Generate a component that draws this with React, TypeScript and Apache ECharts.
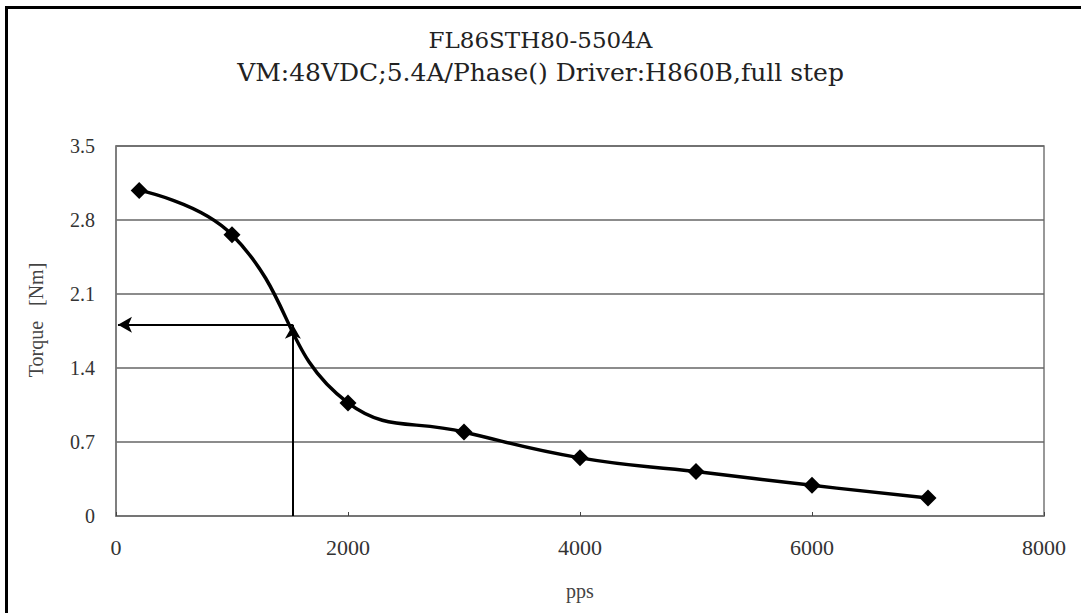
import React, { useEffect, useRef } from "react";
import * as echarts from "echarts";

const titleLines = ["FL86STH80-5504A", "VM:48VDC;5.4A/Phase() Driver:H860B,full step"];
const yAxisName = "Torque\u00a0\u00a0\u00a0[Nm]";
const speedPps = [200, 1000, 2000, 3000, 4000, 5000, 6000, 7000];
const torqueNm = [3.08, 2.66, 1.07, 0.795, 0.55, 0.42, 0.29, 0.17];
const yTicks = [0, 0.7, 1.4, 2.1, 2.8, 3.5];
const xTicks = [0, 2000, 4000, 6000, 8000];
const arrowPoint = [1525, 1.81];
const arrowLeftX = 17;

export default function App() {
  const ref = useRef<HTMLDivElement>(null);
  useEffect(() => {
    if (!ref.current) return;
    const chart = echarts.init(ref.current, null, { renderer: "svg" });
    const serif = "'Liberation Serif', 'DejaVu Serif', serif";
    chart.setOption({
      animation: false,
      backgroundColor: "#fff",
      title: {
        text: titleLines[0],
        subtext: titleLines[1],
        left: "center",
        top: 23,
        itemGap: 9,
        textStyle: { fontFamily: "'DejaVu Serif', serif", fontSize: 23, fontWeight: "normal", color: "#222" },
        subtextStyle: { fontFamily: "'DejaVu Serif', serif", fontSize: 25, color: "#222" },
      },
      graphic: [
        {
          type: "rect",
          shape: { x: 6.5, y: 7.5, width: 1200, height: 800 },
          style: { fill: "none", stroke: "#000", lineWidth: 3 },
          silent: true,
        },
        {
          type: "text",
          x: 36,
          y: 320,
          rotation: Math.PI / 2,
          silent: true,
          style: {
            text: yAxisName,
            align: "center",
            verticalAlign: "middle",
            fontFamily: serif,
            fontSize: 20,
            fill: "#444",
          },
        },
      ],
      grid: { left: 116, right: 37, top: 146, bottom: 97, show: true, borderColor: "#777", borderWidth: 1.5 },
      xAxis: {
        type: "value",
        min: xTicks[0],
        max: xTicks[xTicks.length - 1],
        interval: 2000,
        name: "pps",
        nameLocation: "middle",
        nameGap: 65,
        nameTextStyle: { fontFamily: serif, fontSize: 20, color: "#444" },
        axisLine: { show: true, lineStyle: { color: "#777", width: 1.5 } },
        axisTick: { show: true, inside: true, length: 4, lineStyle: { color: "#444" } },
        axisLabel: { fontFamily: serif, fontSize: 22, color: "#333", margin: 20, formatter: (v: number) => String(v) },
        splitLine: { show: false },
      },
      yAxis: {
        type: "value",
        min: yTicks[0],
        max: yTicks[yTicks.length - 1],
        interval: 0.7,
        axisLine: { show: true, lineStyle: { color: "#777", width: 1.5 } },
        axisTick: { show: false },
        axisLabel: {
          fontFamily: serif,
          fontSize: 20,
          color: "#333",
          margin: 21,
          formatter: (v: number) => (v === 0 ? "0" : v.toFixed(1)),
        },
        splitLine: { show: true, lineStyle: { color: "#666", width: 1.5 } },
      },
      series: [
        {
          type: "line",
          data: speedPps.map((x, i) => [x, torqueNm[i]]),
          smooth: 0.45,
          symbol: "diamond",
          symbolSize: 17,
          itemStyle: { color: "#000" },
          lineStyle: { color: "#000", width: 3.5 },
          markLine: {
            silent: true,
            symbol: ["none", "arrow"],
            symbolSize: [12, 14],
            label: { show: false },
            lineStyle: { color: "#000", width: 2, type: "solid" },
            data: [
              [{ coord: [arrowPoint[0], 0] }, { coord: [arrowPoint[0], arrowPoint[1]] }],
              [{ coord: [arrowPoint[0], arrowPoint[1]] }, { coord: [arrowLeftX, arrowPoint[1]] }],
            ],
          },
        },
      ],
    });
    return () => chart.dispose();
  }, []);
  return <div ref={ref} style={{ position: "fixed", left: 0, top: 0, width: 1081, height: 613 }} />;
}
